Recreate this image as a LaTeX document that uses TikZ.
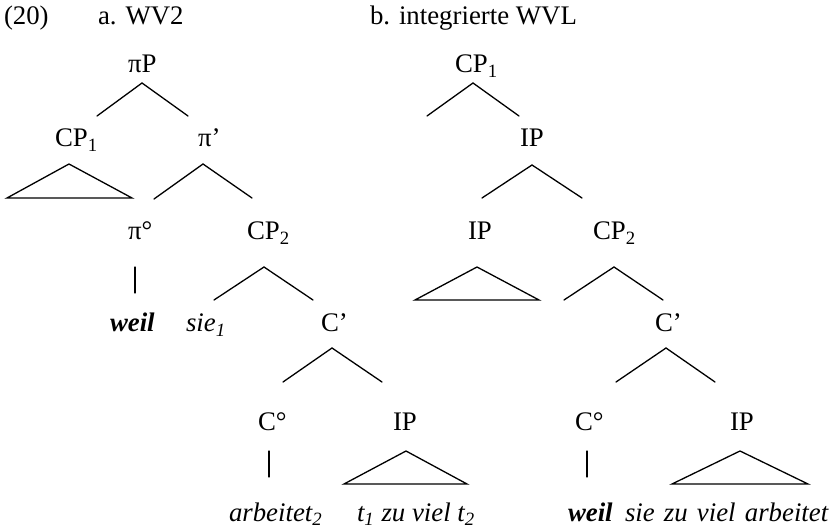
\documentclass[tikz,border=0pt]{standalone}
\usepackage{fontspec}
\setmainfont{Liberation Serif}
\begin{document}
\begin{tikzpicture}[x=0.5pt,y=-0.5pt,
  lab/.style={anchor=base west,inner sep=0pt,outer sep=0pt,font=\fontsize{13.4}{15}\selectfont},
  br/.style={line width=0.65pt,line cap=round,line join=miter}]
\useasboundingbox (0,0) rectangle (839,528);
% header
\node[lab] (num) at (4,25) {(20)};
\node[lab] (ha) at (98,25) {a. WV2};
\node[lab] (hb) at (370,25) {b. integrierte WVL};
% ---------- tree a ----------
\node[lab] (piP) at (128,73) {πP};
\node[lab] (cp1a) at (55,147) {CP\textsubscript{1}};
\node[lab] (pibar) at (198,147) {π’};
\node[lab] (pizero) at (128,240) {π°};
\node[lab] (cp2a) at (247,240) {CP\textsubscript{2}};
\node[lab] (weila) at (110,332) {\textbf{\textit{weil}}};
\node[lab] (sie) at (186,332) {\textit{sie\textsubscript{1}}};
\node[lab] (cbara) at (321,332) {C’};
\node[lab] (czeroa) at (258,430) {C°};
\node[lab] (ipa) at (393,430) {IP};
\node[lab] (arb) at (229,521) {\textit{arbeitet\textsubscript{2}}};
\node[lab] (tzu) at (357,521) {\textit{t\textsubscript{1} zu viel t\textsubscript{2}}};
% coordinates a
\coordinate (a1) at (142,83); \coordinate (a1l) at (97,116); \coordinate (a1r) at (188,116);
\coordinate (a2) at (69,164); \coordinate (a2l) at (7,198); \coordinate (a2r) at (132,198);
\coordinate (a3) at (203,164); \coordinate (a3l) at (154,199); \coordinate (a3r) at (252,198);
\coordinate (a4t) at (135,267); \coordinate (a4b) at (135,293);
\coordinate (a5) at (264,267); \coordinate (a5l) at (214,300); \coordinate (a5r) at (313,300);
\coordinate (a6) at (332,348); \coordinate (a6l) at (283,382); \coordinate (a6r) at (382,382);
\coordinate (a7t) at (269,451); \coordinate (a7b) at (269,477);
\coordinate (a8) at (406,451); \coordinate (a8l) at (344,484); \coordinate (a8r) at (467,484);
\draw[br] (a1l) -- (a1) -- (a1r);
\draw[br] (a2) -- (a2l) -- (a2r) -- cycle;
\draw[br] (a3l) -- (a3) -- (a3r);
\draw[br] (a4t) -- (a4b);
\draw[br] (a5l) -- (a5) -- (a5r);
\draw[br] (a6l) -- (a6) -- (a6r);
\draw[br] (a7t) -- (a7b);
\draw[br] (a8) -- (a8l) -- (a8r) -- cycle;
% ---------- tree b ----------
\node[lab] (cp1b) at (455,73) {CP\textsubscript{1}};
\node[lab] (ipb1) at (520,147) {IP};
\node[lab] (ipb2) at (468,240) {IP};
\node[lab] (cp2b) at (593,240) {CP\textsubscript{2}};
\node[lab] (cbarb) at (655,332) {C’};
\node[lab] (czerob) at (575,430) {C°};
\node[lab] (ipb3) at (730,430) {IP};
\node[lab] (weilb) at (568,521) {\textbf{\textit{weil}}};
\node[lab] (sieb) at (625,521) {\itshape\spaceskip=4.6pt\relax sie zu viel arbeitet};
% coordinates b
\coordinate (b1) at (473,83); \coordinate (b1l) at (427,116); \coordinate (b1r) at (519,116);
\coordinate (b2) at (532,165); \coordinate (b2l) at (482,198); \coordinate (b2r) at (582,198);
\coordinate (b3) at (477,267); \coordinate (b3l) at (415,300); \coordinate (b3r) at (539,300);
\coordinate (b4) at (614,267); \coordinate (b4l) at (564,300); \coordinate (b4r) at (663,300);
\coordinate (b5) at (666,348); \coordinate (b5l) at (616,382); \coordinate (b5r) at (715,382);
\coordinate (b6t) at (587,451); \coordinate (b6b) at (587,477);
\coordinate (b7) at (740,451); \coordinate (b7l) at (672,484); \coordinate (b7r) at (808,484);
\draw[br] (b1l) -- (b1) -- (b1r);
\draw[br] (b2l) -- (b2) -- (b2r);
\draw[br] (b3) -- (b3l) -- (b3r) -- cycle;
\draw[br] (b4l) -- (b4) -- (b4r);
\draw[br] (b5l) -- (b5) -- (b5r);
\draw[br] (b6t) -- (b6b);
\draw[br] (b7) -- (b7l) -- (b7r) -- cycle;
\end{tikzpicture}
\end{document}
